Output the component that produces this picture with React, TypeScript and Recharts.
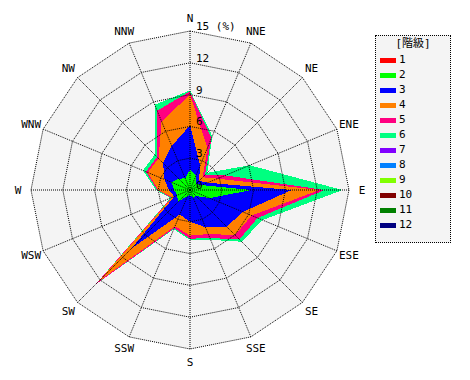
import React from "react";
import { RadarChart, Radar, PolarGrid, PolarAngleAxis, PolarRadiusAxis } from "recharts";

const directions = ["N", "NNE", "NE", "ENE", "E", "ESE", "SE", "SSE", "S", "SSW", "SW", "WSW", "W", "WNW", "NW", "NNW"];
const classLabels = ["1", "2", "3", "4", "5", "6", "7", "8", "9", "10", "11", "12"];
const classColors = ["#ff0000", "#00ff00", "#0000ff", "#ff8000", "#ff0080", "#00ff80", "#8000ff", "#0080ff", "#80ff00", "#800000", "#008000", "#000080"];
const radiusTicks = [0, 3, 6, 9, 12, 15];

//                N    NNE  NE   ENE  E    ESE  SE   SSE  S    SSW  SW   WSW  W    WNW  NW   NNW
const class1 = [0.1, 0.1, 0.1, 0.1, 0.2, 0.1, 0.1, 0.1, 0.1, 0.1, 0.1, 0.1, 0.1, 0.1, 0.1, 0.1];
const class2 = [1.8, 1.4, 0.7, 1.1, 5.6, 1.9, 0.7, 0.7, 0.4, 0.5, 1.5, 1.2, 1.4, 1.8, 1.4, 1.1];
const class3 = [4.2, 1.0, 0.4, 0.6, 3.8, 3.4, 4.1, 3.0, 2.5, 1.9, 6.2, 0.3, 0.5, 0.7, 2.1, 3.3];
const class4 = [2.9, 1.8, 0.5, 1.0, 2.6, 0.9, 1.1, 0.7, 1.3, 1.2, 4.4, 0.2, 1.0, 1.7, 0.6, 2.5];
const class5 = [0.3, 1.0, 0.3, 0.8, 0.5, 0.6, 0.6, 0.4, 0.3, 0.2, 0.4, 0.1, 0.1, 0.2, 0.2, 1.1];
const class6 = [0.1, 0.2, 0.3, 2.5, 1.7, 0.5, 0.3, 0.2, 0.1, 0.1, 0.0, 0.1, 0.1, 0.3, 0.3, 0.6];
const class7 = [0, 0, 0, 0, 0, 0, 0, 0, 0, 0, 0, 0, 0, 0, 0, 0];
const class8 = [0, 0, 0, 0, 0, 0, 0, 0, 0, 0, 0, 0, 0, 0, 0, 0];
const class9 = [0, 0, 0, 0, 0, 0, 0, 0, 0, 0, 0, 0, 0, 0, 0, 0];
const class10 = [0, 0, 0, 0, 0, 0, 0, 0, 0, 0, 0, 0, 0, 0, 0, 0];
const class11 = [0, 0, 0, 0, 0, 0, 0, 0, 0, 0, 0, 0, 0, 0, 0, 0];
const class12 = [0, 0, 0, 0, 0, 0, 0, 0, 0, 0, 0, 0, 0, 0, 0, 0];

const classes = [class1, class2, class3, class4, class5, class6, class7, class8, class9, class10, class11, class12];

const rows = directions.map((dir, i) => {
  const row: Record<string, any> = { dir, bg: 15 };
  let sum = 0;
  classes.forEach((arr, k) => {
    sum += arr[i];
    row["cum" + (k + 1)] = Math.round(sum * 100) / 100;
  });
  return row;
});

const W = 372;
const H = 364;
const CX = 182;
const CY = 182;
const R = 159;
const FONT = "'DejaVu Sans Mono', monospace";

const AngleTick = (props: any) => {
  const { x, y, payload } = props;
  const dx = x - CX;
  const dy = y - CY;
  const len = Math.hypot(dx, dy) || 1;
  const tx = CX + (dx / len) * 172;
  const ty = CY + (dy / len) * 172;
  return (
    <text x={tx} y={ty} textAnchor="middle" dominantBaseline="central" fontSize={11} fontFamily={FONT} fill="#000">
      {payload.value}
    </text>
  );
};

const RadiusTick = (props: any) => {
  const { x, y, payload } = props;
  const label = payload.value === 15 ? "15 (%)" : String(payload.value);
  return (
    <text x={x + 6} y={y - 4.5} textAnchor="start" dominantBaseline="central" fontSize={11} fontFamily={FONT} fill="#000">
      {label}
    </text>
  );
};

const margin = { top: 0, right: 0, bottom: 0, left: 0 };

export default function App() {
  const order = classLabels.map((_, k) => k).reverse();
  return (
    <div style={{ position: "relative", width: 454, height: H }}>
      <style>{`.rose-fill path, .rose-fill polygon { shape-rendering: crispEdges; }`}</style>
      <div className="rose-fill" style={{ position: "absolute", left: 0, top: 0 }}>
        <RadarChart width={W} height={H} data={rows} cx={CX} cy={CY} outerRadius={R} margin={margin}>
          <PolarAngleAxis dataKey="dir" tick={false} axisLine={false} tickLine={false} />
          <PolarRadiusAxis domain={[0, 15]} tickCount={6} tick={false} axisLine={false} tickLine={false} />
          <Radar dataKey="bg" fill="#f4f4f4" fillOpacity={1} stroke="none" isAnimationActive={false} />
          {order.map((k) => (
            <Radar
              key={k}
              dataKey={"cum" + (k + 1)}
              fill={classColors[k]}
              fillOpacity={1}
              stroke="none"
              dot={false}
              isAnimationActive={false}
            />
          ))}
        </RadarChart>
      </div>
      <div style={{ position: "absolute", left: 0, top: 0 }}>
        <RadarChart width={W} height={H} data={rows} cx={CX} cy={CY} outerRadius={R} margin={margin}>
          <PolarGrid gridType="polygon" stroke="#000" strokeDasharray="1 1" />
          <PolarAngleAxis dataKey="dir" tick={<AngleTick />} axisLine={false} tickLine={false} />
          <PolarRadiusAxis angle={90} domain={[0, 15]} ticks={radiusTicks} tickCount={6} tick={<RadiusTick />} axisLine={false} tickLine={false} />
          <Radar dataKey="bg" fill="none" fillOpacity={0} stroke="none" dot={false} isAnimationActive={false} />
        </RadarChart>
      </div>
      <div
        style={{
          position: "absolute",
          left: 367,
          top: 27,
          width: 76,
          height: 208,
          border: "1px dotted #000",
          background: "#f4f4f4",
          boxSizing: "border-box",
          fontFamily: FONT,
          fontSize: 11,
          color: "#000",
        }}
      >
        <div style={{ position: "absolute", left: 0, right: 0, top: 1, textAlign: "center", lineHeight: "14px", fontFamily: "'DejaVu Sans Mono', 'Noto Sans CJK JP', monospace", color: "#000" }}>
          [階級]
        </div>
        {classLabels.map((lab, k) => (
          <div key={lab} style={{ position: "absolute", left: 4, top: 17 + k * 15, height: 14, display: "flex", alignItems: "center" }}>
            <div style={{ width: 16, height: 5, background: classColors[k] }} />
            <span style={{ marginLeft: 3, lineHeight: "14px" }}>{lab}</span>
          </div>
        ))}
      </div>
    </div>
  );
}
